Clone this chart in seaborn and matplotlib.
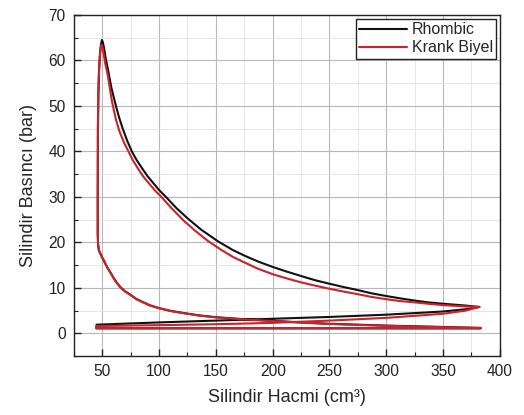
import pandas as pd
import seaborn as sns
import matplotlib.pyplot as plt
from matplotlib.ticker import MultipleLocator

# P-V data, one segment at a time

# compression stroke (BDC -> TDC), same volume points for both engines
comp_V = [383, 365, 350, 325, 300, 275, 250, 225, 200, 175, 150, 135, 122, 110, 100,
          92, 85, 80, 75, 70, 66, 63, 60, 57.5, 55, 52.5, 50, 48.5, 47, 46.3]
comp_P_rh = [1.2, 1.3, 1.4, 1.55, 1.7, 1.9, 2.1, 2.4, 2.75, 3.1, 3.55, 3.95, 4.45, 4.95, 5.55,
             6.15, 6.95, 7.55, 8.45, 9.25, 10.15, 11.05, 12.15, 13.25, 14.25, 15.45, 16.65, 17.45, 18.25, 19.6]
comp_P_kb = [1.15, 1.25, 1.35, 1.5, 1.65, 1.85, 2.05, 2.35, 2.7, 3.05, 3.5, 3.9, 4.4, 4.9, 5.5,
             6.1, 6.9, 7.5, 8.4, 9.2, 10.1, 11.0, 12.1, 13.2, 14.2, 15.4, 16.6, 17.4, 18.2, 19.6]

# combustion rise near TDC
rise_V_rh = [46.0, 46.0, 46.2, 46.6, 47.2, 48.0, 48.8, 49.7]
rise_P_rh = [22, 30, 45, 53, 58, 61.5, 63.5, 64.5]
rise_V_kb = [46.0, 46.0, 46.1, 46.5, 47.0, 47.7, 48.5, 49.2]
rise_P_kb = [22, 30, 45, 52.5, 57, 60.5, 62.6, 63.4]

# expansion stroke
exp_V_rh = [50.5, 51.5, 53, 55, 58, 62, 65, 68, 72, 76, 80, 85, 90, 95, 100, 106, 115, 125,
            137, 152, 165, 175, 187, 200, 212, 225, 237, 250, 262, 275, 287, 300, 312, 325,
            337, 350, 360, 370, 382]
exp_P_rh = [64, 62.8, 60.5, 58, 54, 50, 47.3, 45, 42.3, 40, 38.2, 36.3, 34.5, 33, 31.5, 30, 27.6, 25.3,
            22.8, 20.2, 18.3, 17.1, 15.8, 14.6, 13.6, 12.6, 11.7, 10.9, 10.2, 9.5, 8.8, 8.2, 7.7, 7.2,
            6.8, 6.5, 6.3, 6.1, 5.8]
exp_V_kb = [49.8, 50.5, 51.5, 52.5, 55, 58.5, 62, 65, 69, 73, 77, 82, 86, 91, 96, 102, 111, 122,
            132, 143, 155, 165, 175, 187, 200, 212, 225, 237, 250, 262, 275, 287, 300, 312, 325,
            337, 350, 360, 370, 382]
exp_P_kb = [63.1, 62.5, 61, 59.5, 56.5, 51, 47, 44.5, 42, 40, 38, 36, 34.5, 33, 31.5, 30, 27.5, 24.7,
            22.5, 20.3, 18.3, 16.8, 15.6, 14.2, 13.0, 12.1, 11.2, 10.5, 9.8, 9.2, 8.6, 8.0, 7.5, 7.1, 6.8,
            6.5, 6.2, 6.05, 5.9, 5.8]

# exhaust stroke
exh_V = [370, 350, 300, 250, 200, 150, 100, 45]
exh_P_rh = [5.3, 4.8, 4.1, 3.6, 3.2, 2.8, 2.4, 1.9]
exh_P_kb = [5.0, 4.3, 3.4, 2.8, 2.3, 2.0, 1.8, 1.6]

# intake stroke
int_V = [44.7, 383]
int_P = [1.1, 1.1]

engines = ['Rhombic', 'Krank Biyel']

rh = pd.DataFrame({
    'V': comp_V + rise_V_rh + exp_V_rh + exh_V + int_V,
    'P': comp_P_rh + rise_P_rh + exp_P_rh + exh_P_rh + int_P,
})
rh['engine'] = engines[0]
kb = pd.DataFrame({
    'V': comp_V + rise_V_kb + exp_V_kb + exh_V + int_V,
    'P': comp_P_kb + rise_P_kb + exp_P_kb + exh_P_kb + int_P,
})
kb['engine'] = engines[1]
df = pd.concat([rh, kb], ignore_index=True)

sns.set_theme(style='white')
plt.rcParams['font.family'] = ['Liberation Sans', 'DejaVu Sans']

fig, ax = plt.subplots(figsize=(5.24, 4.15), dpi=100)
fig.subplots_adjust(left=0.141, right=0.954, top=0.964, bottom=0.142)

sns.lineplot(data=df, x='V', y='P', hue='engine', hue_order=engines,
             palette={'Rhombic': '#111111', 'Krank Biyel': '#cc2229'},
             sort=False, estimator=None, lw=1.5, ax=ax)

ax.set_xlim(25, 400)
ax.set_ylim(-5, 70)
ax.xaxis.set_major_locator(MultipleLocator(50))
ax.xaxis.set_minor_locator(MultipleLocator(25))
ax.yaxis.set_major_locator(MultipleLocator(10))
ax.yaxis.set_minor_locator(MultipleLocator(5))
ax.set_xticks(range(50, 401, 50))

ax.grid(True, which='major', color='#b8b8b8', lw=0.8)
ax.grid(True, which='minor', color='#e2e2e2', lw=0.6)
ax.set_axisbelow(True)

for s in ax.spines.values():
    s.set_color('#222222')
    s.set_linewidth(1.0)

ax.tick_params(which='both', direction='in', bottom=True, left=True,
               colors='#222222', labelsize=11.2)
ax.tick_params(which='major', length=5, width=1.0, pad=6)
ax.tick_params(which='minor', length=3, width=0.8)

ax.set_xlabel('Silindir Hacmi (cm³)', fontsize=13, labelpad=7)
ax.set_ylabel('Silindir Basıncı (bar)', fontsize=13, labelpad=8)

ax.legend(title=None, loc='upper right', frameon=True, fancybox=False,
          edgecolor='#222222', framealpha=1, fontsize=11.5,
          handlelength=3.0, borderaxespad=0.25, borderpad=0.2,
          labelspacing=0.2, handletextpad=0.3)

plt.savefig('out.png', dpi=100)
